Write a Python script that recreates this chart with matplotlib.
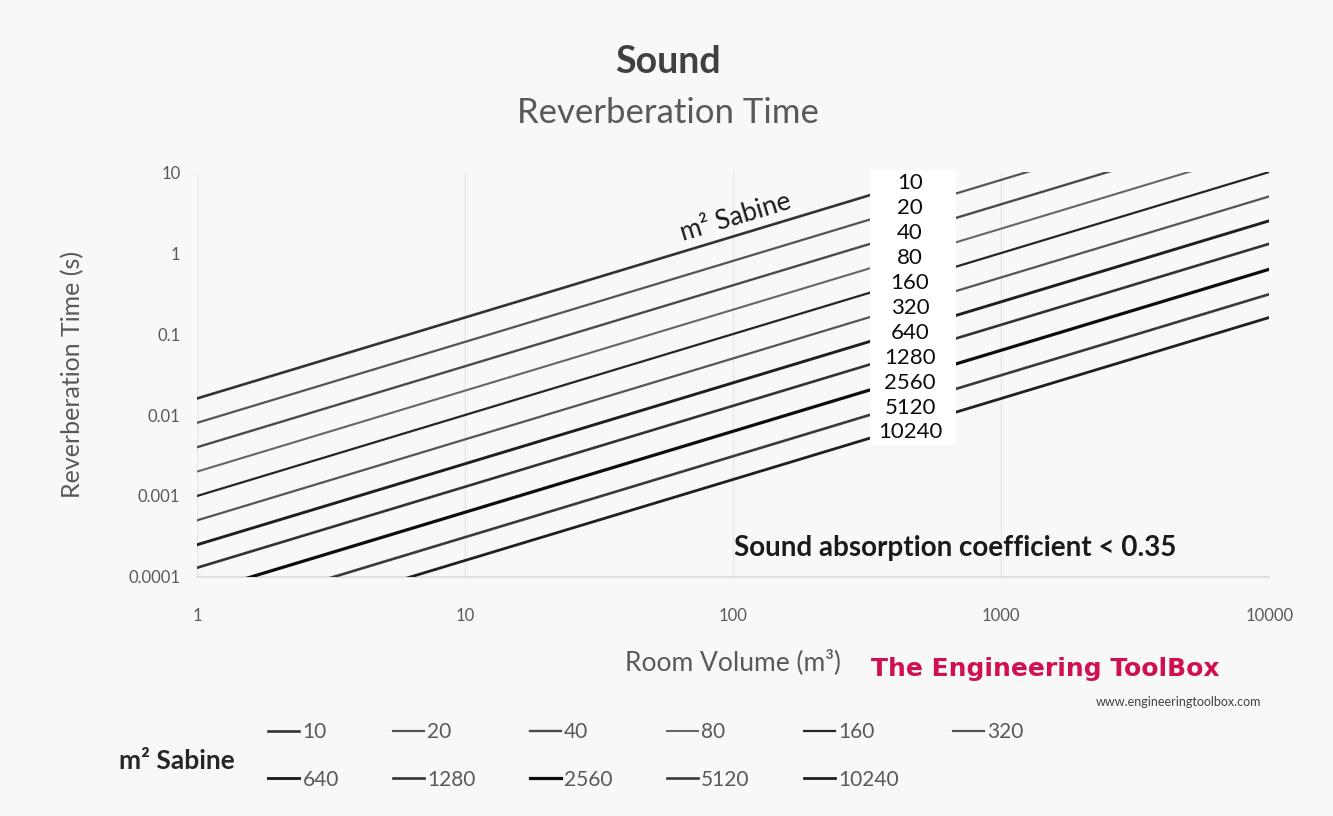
import matplotlib
matplotlib.use('Agg')
import matplotlib.pyplot as plt
from matplotlib.patches import Rectangle
from matplotlib.ticker import FixedLocator, FixedFormatter, NullLocator

plt.rcParams['font.family'] = ['Lato', 'DejaVu Sans']

# room volume (m3) and reverberation time (s)
volume = [1, 10, 100, 1000, 10000]
areas = [10, 20, 40, 80, 160, 320, 640, 1280, 2560, 5120, 10240]
t_10 = [0.016, 0.16, 1.6, 16, 160]
t_20 = [0.008, 0.08, 0.8, 8, 80]
t_40 = [0.004, 0.04, 0.4, 4, 40]
t_80 = [0.002, 0.02, 0.2, 2, 20]
t_160 = [0.001, 0.01, 0.1, 1, 10]
t_320 = [0.0005, 0.005, 0.05, 0.5, 5]
t_640 = [0.00025, 0.0025, 0.025, 0.25, 2.5]
t_1280 = [0.00013, 0.0013, 0.013, 0.13, 1.3]
t_2560 = [0.000063, 0.00063, 0.0063, 0.063, 0.63]
t_5120 = [0.000031, 0.00031, 0.0031, 0.031, 0.31]
t_10240 = [0.000016, 0.00016, 0.0016, 0.016, 0.16]
series = [t_10, t_20, t_40, t_80, t_160, t_320, t_640, t_1280, t_2560, t_5120, t_10240]

y_ticks = [0.0001, 0.001, 0.01, 0.1, 1, 10]
y_labels = ['0.0001', '0.001', '0.01', '0.1', '1', '10']
x_ticks = [1, 10, 100, 1000, 10000]
x_labels = ['1', '10', '100', '1000', '10000']

colors = ['#333333', '#555555', '#4a4a4a', '#666666', '#262626', '#555555',
          '#1f1f1f', '#333333', '#0d0d0d', '#3a3a3a', '#1f1f1f']
widths = [1.9, 1.6, 1.7, 1.5, 1.6, 1.6, 2.1, 1.9, 2.3, 1.9, 2.0]

bg = '#f8f8f8'
fig = plt.figure(figsize=(13.33, 8.16), dpi=100, facecolor=bg)
ax = fig.add_axes([0.1478, 0.2929, 0.8044, 0.4963], facecolor=bg)

handles = []
for a, t, c, w in zip(areas, series, colors, widths):
    h, = ax.plot(volume, t, color=c, lw=w, label=str(a), zorder=3)
    handles.append(h)

ax.set_xscale('log')
ax.set_yscale('log')
ax.set_xlim(1, 10000)
ax.set_ylim(0.0001, 10)
ax.xaxis.set_major_locator(FixedLocator(x_ticks))
ax.xaxis.set_major_formatter(FixedFormatter(x_labels))
ax.yaxis.set_major_locator(FixedLocator(y_ticks))
ax.yaxis.set_major_formatter(FixedFormatter(y_labels))
ax.xaxis.set_minor_locator(NullLocator())
ax.yaxis.set_minor_locator(NullLocator())
ax.tick_params(length=0, labelsize=12, labelcolor='#595959')
ax.tick_params(axis='x', pad=22)
ax.tick_params(axis='y', pad=12)
ax.grid(axis='x', color='#e8e8e8', lw=1)
for s in ['top', 'right', 'left']:
    ax.spines[s].set_visible(False)
ax.spines['bottom'].set_color('#d9d9d9')
ax.spines['bottom'].set_linewidth(1.2)

ax.set_xlabel('Room Volume (m³)', fontsize=19, color='#595959', labelpad=18)
ax.set_ylabel('Reverberation Time (s)', fontsize=18, color='#595959', labelpad=32)

# white label box with the absorption values
ax.add_patch(Rectangle((0.628, 0.325), 0.08, 0.68, transform=ax.transAxes,
                       facecolor='white', edgecolor='none', zorder=4, clip_on=False))
for i, a in enumerate(areas):
    ax.text(0.665, 0.972 - i * 0.0615, str(a), transform=ax.transAxes,
            ha='center', va='center', fontsize=16, color='#0d0d0d', zorder=5)

ax.text(0.502, 0.888, 'm² Sabine', transform=ax.transAxes, rotation=16.7,
        ha='center', va='center', fontsize=19, color='#1a1a1a', zorder=5)
ax.text(0.707, 0.072, 'Sound absorption coefficient < 0.35', transform=ax.transAxes,
        ha='center', va='center', fontsize=20, fontweight='bold', color='#1a1a1a', zorder=5)

fig.text(0.501, 0.924, 'Sound', ha='center', va='center', fontsize=27,
         fontweight='bold', color='#404040')
fig.text(0.501, 0.862, 'Reverberation Time', ha='center', va='center', fontsize=25,
         color='#595959')

fig.text(0.784, 0.180, 'The Engineering ToolBox', ha='center', va='center', fontsize=18,
         fontweight='bold', color='#d1114f', family='DejaVu Sans')
fig.text(0.884, 0.140, 'www.engineeringtoolbox.com', ha='center', va='center',
         fontsize=9, color='#404040')

fig.text(0.133, 0.068, 'm² Sabine', ha='center', va='center', fontsize=19,
         fontweight='bold', color='#262626')
order = [0, 6, 1, 7, 2, 8, 3, 9, 4, 10, 5]
fig.legend([handles[i] for i in order], [str(areas[i]) for i in order],
           ncol=6, loc='center left', bbox_to_anchor=(0.187, 0.0735), frameon=False,
           fontsize=15, labelcolor='#595959', handlelength=1.5, handletextpad=0.15,
           columnspacing=2.6, labelspacing=1.3)

fig.savefig('out.png', dpi=100, facecolor=bg)
